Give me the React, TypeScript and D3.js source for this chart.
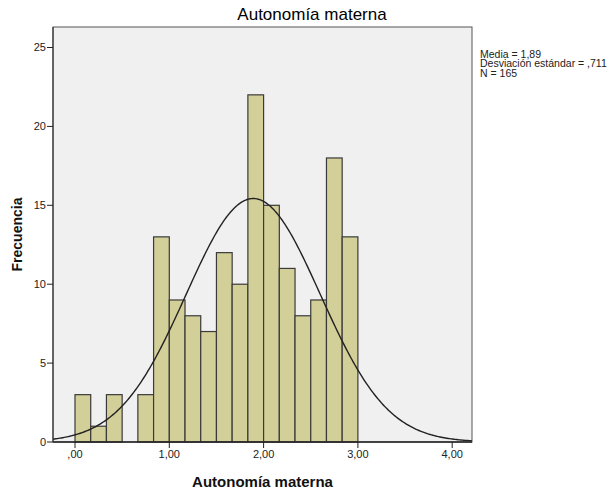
import React from "react";
import * as d3 from "d3";

const binCounts = [3, 1, 3, 0, 3, 13, 9, 8, 7, 12, 10, 22, 15, 11, 8, 9, 18, 13];
const binWidth = 1 / 6;
const xTicks = [0, 1, 2, 3, 4];
const xTickLabels = [",00", "1,00", "2,00", "3,00", "4,00"];
const yTicks = [0, 5, 10, 15, 20, 25];
const stats = { mean: 1.89, sd: 0.711, n: 165 };
const legendLines = ["Media = 1,89", "Desviación estándar = ,711", "N = 165"];
const title = "Autonomía materna";
const xTitle = "Autonomía materna";
const yTitle = "Frecuencia";

const W = 615, H = 490;
const L = 53, R = 472, T = 27, B = 442;
const FONT = "'Liberation Sans', Arial, sans-serif";

export default function App() {
  const x = d3.scaleLinear().domain([-0.2333, 4.21]).range([L, R]);
  const y = d3.scaleLinear().domain([0, 26.3]).range([B, T]);

  const bins = binCounts.map((c, i) => ({ x0: i * binWidth, x1: (i + 1) * binWidth, c }));

  const scale = stats.n * binWidth;
  const pdf = (v: number) =>
    (scale / (stats.sd * Math.sqrt(2 * Math.PI))) * Math.exp(-0.5 * ((v - stats.mean) / stats.sd) ** 2);
  const [d0, d1] = x.domain();
  const pts = d3.range(0, 301).map((i) => d0 + ((d1 - d0) * i) / 300);
  const line = d3
    .line<number>()
    .x((v) => x(v))
    .y((v) => y(pdf(v)))
    .curve(d3.curveLinear);

  return (
    <svg width={W} height={H} style={{ position: "absolute", left: 0, top: 0, background: "#fff" }} fontFamily={FONT}>
      <text x={312} y={20} textAnchor="middle" fontSize={17} fill="#000">
        {title}
      </text>
      <rect x={L} y={T} width={R - L} height={B - T} fill="#f0f0f0" stroke="none" />
      <g>
        {bins.map((b, i) =>
          b.c > 0 ? (
            <rect
              key={i}
              x={x(b.x0)}
              y={y(b.c)}
              width={x(b.x1) - x(b.x0)}
              height={y(0) - y(b.c)}
              fill="#d3cf98"
              stroke="#3a3a3a"
              strokeWidth={1.2}
            />
          ) : null
        )}
      </g>
      <clipPath id="plotclip">
        <rect x={L} y={T} width={R - L} height={B - T} />
      </clipPath>
      <path d={line(pts) || ""} fill="none" stroke="#222" strokeWidth={1.4} clipPath="url(#plotclip)" />
      <rect x={L} y={T} width={R - L} height={B - T} fill="none" stroke="#555" strokeWidth={1} />
      <line x1={L} x2={R} y1={B} y2={B} stroke="#222" strokeWidth={1.5} />
      <line x1={L} x2={L} y1={T} y2={B} stroke="#222" strokeWidth={1} />
      {yTicks.map((t) => (
        <g key={t}>
          <line x1={L - 6} x2={L} y1={y(t)} y2={y(t)} stroke="#222" />
          <text x={L - 7} y={y(t)} dy="0.35em" textAnchor="end" fontSize={11} fill="#222">
            {t}
          </text>
        </g>
      ))}
      {xTicks.map((t, i) => (
        <g key={t}>
          <line x1={x(t)} x2={x(t)} y1={B} y2={B + 6} stroke="#222" />
          <text x={x(t)} y={B + 16} textAnchor="middle" fontSize={11} fill="#222">
            {xTickLabels[i]}
          </text>
        </g>
      ))}
      <text x={262.5} y={487} textAnchor="middle" fontSize={15} fontWeight="bold" fill="#111">
        {xTitle}
      </text>
      <text
        transform={`translate(22, ${(T + B) / 2}) rotate(-90)`}
        textAnchor="middle"
        fontSize={14}
        fontWeight="bold"
        fill="#111"
      >
        {yTitle}
      </text>
      {legendLines.map((s, i) => (
        <text key={i} x={480} y={57.5 + i * 9.7} fontSize={10.5} fill="#222">
          {s}
        </text>
      ))}
    </svg>
  );
}
